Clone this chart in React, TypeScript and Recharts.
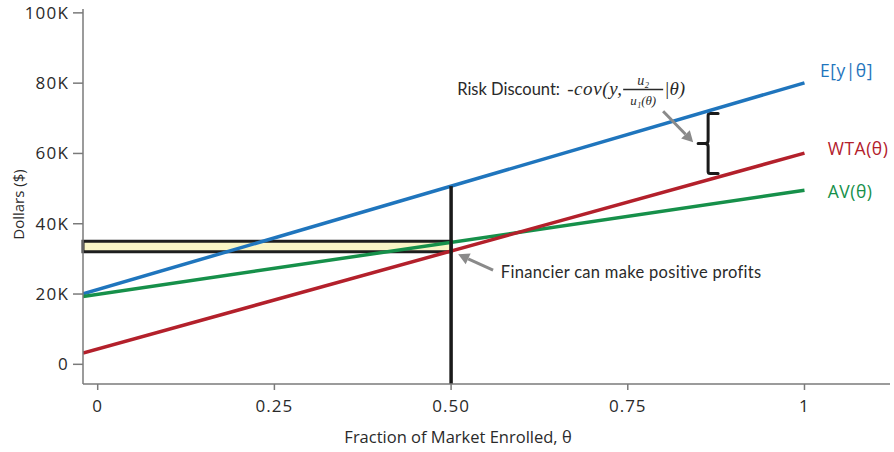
import { LineChart, Line, XAxis, YAxis, ReferenceArea, ReferenceLine, ReferenceDot } from 'recharts';

// enrollment share (theta) at the two ends of each straight line
const thetas = [-0.0208, 1];
const expectedCost = [20050, 80100]; // E[y|θ]
const wtaValues = [3200, 60100]; // WTA(θ)
const avValues = [19300, 49500]; // AV(θ)

const xTicks = [0, 0.25, 0.5, 0.75, 1];
const xTickLabels = ['0', '0.25', '0.50', '0.75', '1'];
const yTicks = [0, 20000, 40000, 60000, 80000, 100000];

// shaded profit band at theta = 0.5 (between WTA and AV)
const bandTheta = 0.5;
const bandLow = 32000;
const bandHigh = 35000;
const markerTop = 50700;

const data = thetas.map((t, i) => ({
  theta: t,
  ey: expectedCost[i],
  wta: wtaValues[i],
  av: avValues[i],
}));

const BLUE = '#1f75bd';
const RED = '#b3202b';
const GREEN = '#16904a';
const GRAY = '#8a8a8a';
const AXIS = '#7a7a7a';
const TEXT = '#2a2a2a';
const SANS = '"Open Sans", "Noto Sans", sans-serif';
const NOTE = 'Lato, "Open Sans", sans-serif';
const MATH = '"Liberation Serif", "DejaVu Serif", serif';

const Arrow = (props: any) => {
  const { x1, y1, x2, y2 } = props;
  const ang = Math.atan2(y2 - y1, x2 - x1);
  const len = 11;
  const half = 6;
  const bx = x2 - len * Math.cos(ang);
  const by = y2 - len * Math.sin(ang);
  const px = -Math.sin(ang) * half;
  const py = Math.cos(ang) * half;
  return (
    <g>
      <line x1={x1} y1={y1} x2={bx} y2={by} stroke={GRAY} strokeWidth={3} />
      <polygon points={`${x2},${y2} ${bx + px},${by + py} ${bx - px},${by - py}`} fill={GRAY} />
    </g>
  );
};

// square-ish curly brace, tip pointing left
const Brace = (props: any) => {
  const { x, y, width, height } = props;
  const xl = x;
  const xm = x + width / 2;
  const xr = x + width;
  const yt = y;
  const yb = y + height;
  const ym = y + height / 2;
  const d = `M${xr},${yt} L${xm + 2},${yt} Q${xm},${yt} ${xm},${yt + 2} L${xm},${ym - 3} Q${xm},${ym} ${xm - 3},${ym} L${xl},${ym} M${xm - 3},${ym} Q${xm},${ym} ${xm},${ym + 3} L${xm},${yb - 2} Q${xm},${yb} ${xm + 2},${yb} L${xr},${yb}`;
  return <path d={d} fill="none" stroke="#1a1a1a" strokeWidth={3} strokeLinecap="round" />;
};

const seriesLabel = (text: string, color: string) => (props: any) => (
  <text x={props.cx} y={props.cy} dy="0.35em" fill={color} fontSize={17.5} fontFamily={SANS} letterSpacing={0.5}>
    {text}
  </text>
);

const RiskLabel = (props: any) => {
  const { cx, cy } = props;
  return (
    <g>
      <text x={cx} y={cy} fill={TEXT} fontFamily={NOTE} fontSize={16.5}>
        Risk Discount:
      </text>
      <text x={cx + 110} y={cy} fill={TEXT} fontFamily={MATH} fontStyle="italic" fontSize={19} letterSpacing={0.6}>
        -cov(y,
      </text>
      <text x={cx + 186} y={cy - 10} textAnchor="middle" fill={TEXT} fontFamily={MATH} fontStyle="italic" fontSize={14}>
        u₂
      </text>
      <line x1={cx + 166} y1={cy - 6} x2={cx + 206} y2={cy - 6} stroke={TEXT} strokeWidth={1.4} />
      <text x={cx + 186} y={cy + 10} textAnchor="middle" fill={TEXT} fontFamily={MATH} fontStyle="italic" fontSize={13}>
        u₁(θ)
      </text>
      <text x={cx + 207} y={cy} fill={TEXT} fontFamily={MATH} fontStyle="italic" fontSize={19}>
        |θ)
      </text>
    </g>
  );
};

const FinancierLabel = (props: any) => (
  <text x={props.cx} y={props.cy} fill={TEXT} fontFamily={NOTE} fontSize={16.5} letterSpacing={0.3}>
    Financier can make positive profits
  </text>
);

const yLabel = (props: any) => {
  const vb = props.viewBox;
  const x = vb.x + 18;
  const y = vb.y + vb.height / 2 + 8;
  return (
    <text x={x} y={y} transform={`rotate(-90 ${x} ${y})`} textAnchor="middle" dominantBaseline="central" fill={TEXT} fontFamily={SANS} fontSize={15}>
      Dollars ($)
    </text>
  );
};

const xLabel = (props: any) => {
  const vb = props.viewBox;
  return (
    <text x={vb.x + 375} y={vb.y + 59} textAnchor="middle" fill={TEXT} fontFamily={SANS} fontSize={16.5}>
      Fraction of Market Enrolled, θ
    </text>
  );
};

export default function App() {
  return (
    <div style={{ position: 'absolute', left: 0, top: 0, width: 894, height: 452 }}>
      <LineChart width={894} height={452} data={data} margin={{ top: 9, right: 4, bottom: 0, left: 0 }}>
        <XAxis
          dataKey="theta"
          type="number"
          domain={[-0.0208, 1.121]}
          allowDataOverflow
          ticks={xTicks}
          tickFormatter={(v: number) => xTickLabels[xTicks.indexOf(v)]}
          height={68}
          stroke={AXIS}
          strokeWidth={1.5}
          tickSize={6}
          tickMargin={10}
          tick={{ fill: TEXT, fontSize: 17, fontFamily: SANS, letterSpacing: 1 }}
          label={{ content: xLabel }}
        />
        <YAxis
          type="number"
          domain={[-5600, 101100]}
          allowDataOverflow
          ticks={yTicks}
          tickFormatter={(v: number) => (v === 0 ? '0' : `${v / 1000}K`)}
          width={83}
          stroke={AXIS}
          strokeWidth={1.5}
          tickSize={10}
          tickMargin={4}
          tick={{ fill: TEXT, fontSize: 17, fontFamily: SANS, letterSpacing: 1.2 }}
          label={{ content: yLabel }}
        />
        <Line dataKey="ey" stroke={BLUE} strokeWidth={3.5} dot={false} isAnimationActive={false} />
        <Line dataKey="av" stroke={GREEN} strokeWidth={3.5} dot={false} isAnimationActive={false} />
        <Line dataKey="wta" stroke={RED} strokeWidth={3.5} dot={false} isAnimationActive={false} />
        <ReferenceArea
          x1={thetas[0]}
          x2={bandTheta}
          y1={bandLow}
          y2={bandHigh}
          fill="#f6f0a8"
          fillOpacity={0.65}
          stroke="#1e1e1e"
          strokeWidth={3}
        />
        <ReferenceLine
          segment={[{ x: bandTheta, y: -5600 }, { x: bandTheta, y: markerTop }]}
          stroke="#1a1a1a"
          strokeWidth={3.5}
        />
        <ReferenceArea x1={0.8495} x2={0.8778} y1={54300} y2={71400} shape={Brace} />
        <ReferenceLine segment={[{ x: 0.8, y: 72000 }, { x: 0.8425, y: 63200 }]} shape={Arrow} />
        <ReferenceLine segment={[{ x: 0.5594, y: 26800 }, { x: 0.51, y: 31300 }]} shape={Arrow} />
        <ReferenceDot x={0.5086} y={76500} r={1} shape={RiskLabel} />
        <ReferenceDot x={0.5704} y={24700} r={1} shape={FinancierLabel} />
        <ReferenceDot x={1.022} y={83600} r={1} shape={seriesLabel('E[y|θ]', BLUE)} />
        <ReferenceDot x={1.033} y={61200} r={1} shape={seriesLabel('WTA(θ)', RED)} />
        <ReferenceDot x={1.033} y={49000} r={1} shape={seriesLabel('AV(θ)', GREEN)} />
      </LineChart>
    </div>
  );
}
